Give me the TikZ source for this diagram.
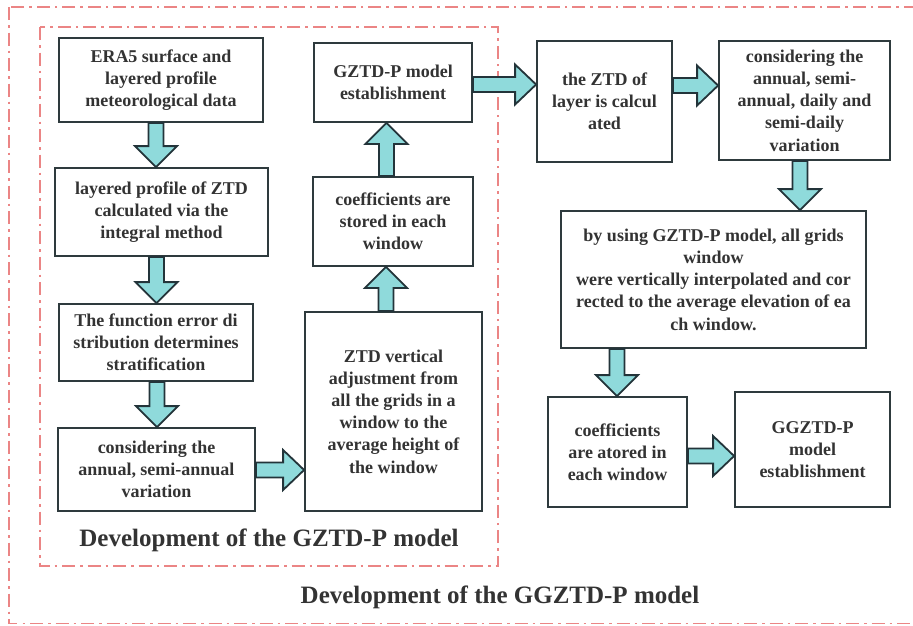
\documentclass[tikz,border=0pt]{standalone}
\usepackage{fontspec}
\setmainfont{Liberation Serif}
\usetikzlibrary{calc}
\definecolor{boxc}{HTML}{2E3A3D}
\definecolor{txt}{HTML}{333333}
\definecolor{arrfill}{HTML}{8FDADB}
\definecolor{arrc}{HTML}{23343A}
\definecolor{framec}{HTML}{EB8585}
\tikzset{
  box/.style={draw=boxc, line width=1.8pt, fill=white, text=txt,
    font=\bfseries\fontsize{18}{22.2}\selectfont, align=center, inner sep=0pt},
  barrow/.style={draw=arrc, fill=arrfill, line width=1.8pt, line join=miter},
  frame/.style={draw=framec, line width=1.8pt,
    dash pattern=on 13pt off 5pt on 2.5pt off 5pt},
  ttl/.style={text=txt, font=\bfseries\fontsize{25}{28}\selectfont, inner sep=0pt}
}
\newcommand\harr[3]{%
  \draw[barrow] let \p1=(#1.east), \p2=(#2.west) in
   (\x1,-#3pt+7.5pt) -- (\x2-21pt,-#3pt+7.5pt) -- (\x2-21pt,-#3pt+20pt) -- (\x2,-#3pt)
   -- (\x2-21pt,-#3pt-20pt) -- (\x2-21pt,-#3pt-7.5pt) -- (\x1,-#3pt-7.5pt) -- cycle;}
\newcommand\darr[3]{%
  \draw[barrow] let \p1=(#1.south), \p2=(#2.north) in
   (#3pt-7.5pt,\y1) -- (#3pt-7.5pt,\y2+21pt) -- (#3pt-21pt,\y2+21pt) -- (#3pt,\y2)
   -- (#3pt+21pt,\y2+21pt) -- (#3pt+7.5pt,\y2+21pt) -- (#3pt+7.5pt,\y1) -- cycle;}
\newcommand\uarr[3]{%
  \draw[barrow] let \p1=(#1.north), \p2=(#2.south) in
   (#3pt-7.5pt,\y1) -- (#3pt-7.5pt,\y2-21pt) -- (#3pt-21pt,\y2-21pt) -- (#3pt,\y2)
   -- (#3pt+21pt,\y2-21pt) -- (#3pt+7.5pt,\y2-21pt) -- (#3pt+7.5pt,\y1) -- cycle;}
\begin{document}
\begin{tikzpicture}[x=1pt,y=-1pt]
\useasboundingbox (0,0) rectangle (913,625);
\fill[white] (0,0) rectangle (913,625);
% frames
\draw[frame] (9,7) rectangle (930,623.5);
\draw[frame] (40,27) rectangle (498,566);
% boxes
\node[box, minimum width=204, minimum height=84] (n1) at (161,80)
  {ERA5 surface and\\layered profile\\meteorological data};
\node[box, minimum width=213, minimum height=88] (n2) at (161.5,212)
  {layered profile of ZTD\\calculated via the\\integral method};
\node[box, minimum width=194, minimum height=77] (n3) at (156,342.5)
  {The function error di\\stribution determines\\stratification};
\node[box, minimum width=197, minimum height=83] (n4) at (156.5,469.5)
  {considering the\\annual, semi-annual\\variation};
\node[box, minimum width=177, minimum height=199] (n5) at (393.5,411.5)
  {ZTD vertical\\adjustment from\\all the grids in a\\window to the\\average height of\\the window};
\node[box, minimum width=160, minimum height=89] (n6) at (393,221.5)
  {coefficients are\\stored in each\\window};
\node[box, minimum width=158, minimum height=79] (n7) at (393,82.5)
  {GZTD-P model\\establishment};
\node[box, minimum width=135, minimum height=121] (n8) at (604.5,101.5)
  {the ZTD of\\layer is calcul\\ated};
\node[box, minimum width=171, minimum height=119] (n9) at (804.5,100.5)
  {considering the\\annual, semi-\\annual, daily and\\semi-daily\\variation};
\node[box, minimum width=305, minimum height=137] (n10) at (713.5,279.5)
  {by using GZTD-P model, all grids\\window\\were vertically interpolated and cor\\rected to the average elevation of ea\\ch window.};
\node[box, minimum width=139, minimum height=110] (n11) at (617.5,452)
  {coefficients\\are atored in\\each window};
\node[box, minimum width=155, minimum height=115] (n12) at (812.5,449.5)
  {GGZTD-P\\model\\establishment};
% arrows
\darr{n1}{n2}{156}
\darr{n2}{n3}{156.5}
\darr{n3}{n4}{157}
\harr{n4}{n5}{470}
\uarr{n5}{n6}{386}
\uarr{n6}{n7}{386.5}
\harr{n7}{n8}{84.5}
\harr{n8}{n9}{85.5}
\darr{n9}{n10}{800}
\darr{n10}{n11}{617}
\harr{n11}{n12}{456}
% titles
\node[ttl] (t1) at (269,540) {Development of the GZTD-P model};
\node[ttl] (t2) at (500,597) {Development of the GGZTD-P model};
\end{tikzpicture}
\end{document}
